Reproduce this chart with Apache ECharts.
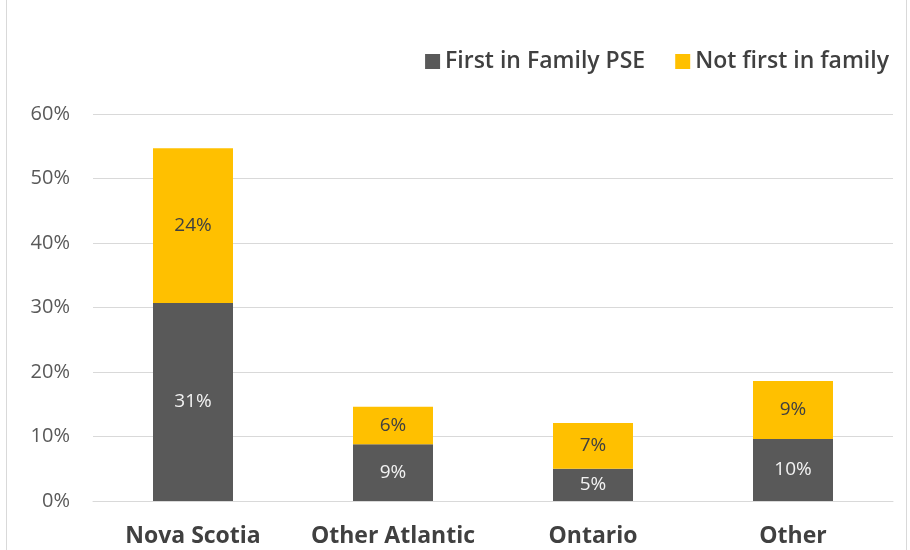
<!DOCTYPE html>
<html><head><meta charset="utf-8">
<script src="https://cdn.jsdelivr.net/npm/echarts@6/dist/echarts.min.js"></script>
<style>html,body{margin:0;padding:0;background:#fff}#c{width:910px;height:550px}</style>
</head><body><div id="c"></div>
<script>
const categories = ['Nova Scotia', 'Other Atlantic', 'Ontario', 'Other'];
const firstInFamily = [30.7, 8.8, 5.0, 9.6];
const notFirst = [24.0, 5.8, 7.1, 9.0];
const seriesNames = ['First in Family PSE', 'Not first in family'];
const yTicks = [0, 10, 20, 30, 40, 50, 60];

const chart = echarts.init(document.getElementById('c'));
const font = '"Open Sans", sans-serif';
chart.setOption({
  animation: false,
  graphic: [{type:'rect', shape:{x:6.5,y:-2,width:900,height:560}, style:{fill:'none', stroke:'#d9d9d9', lineWidth:1}, silent:true}],
  legend: {
    right: 16, top: 45, itemWidth: 15, itemHeight: 15, itemGap: 30,
    icon: 'rect',
    textStyle: {fontFamily: font, fontSize: 23, color: '#404040', fontWeight: 600},
    data: seriesNames
  },
  grid: {left: 93, right: 17, top: 114, bottom: 49, containLabel: false},
  xAxis: {
    type: 'category', data: categories,
    axisLine: {show: true, lineStyle: {color: '#d9d9d9'}},
    axisTick: {show: false},
    axisLabel: {interval: 0, fontFamily: font, fontSize: 23, fontWeight: 'bold', color: '#404040', margin: 24}
  },
  yAxis: {
    type: 'value', min: 0, max: 60, interval: 10,
    axisLine: {show: false}, axisTick: {show: false},
    splitLine: {lineStyle: {color: '#d9d9d9'}},
    axisLabel: {fontFamily: font, fontSize: 20, color: '#595959', margin: 23, formatter: v => yTicks.includes(v) ? v + '%' : ''}
  },
  series: [
    {name: seriesNames[0], type: 'bar', stack: 's', data: firstInFamily, barWidth: '40%',
     itemStyle: {color: '#595959'},
     label: {show: true, position: 'inside', fontFamily: font, fontSize: 19, color: '#f2f2f2', formatter: p => Math.round(p.value) + '%'}},
    {name: seriesNames[1], type: 'bar', stack: 's', data: notFirst, barWidth: '40%',
     itemStyle: {color: '#ffc000'},
     label: {show: true, position: 'inside', fontFamily: font, fontSize: 19, color: '#404040', formatter: p => Math.round(p.value) + '%'}}
  ]
});
</script></body></html>
